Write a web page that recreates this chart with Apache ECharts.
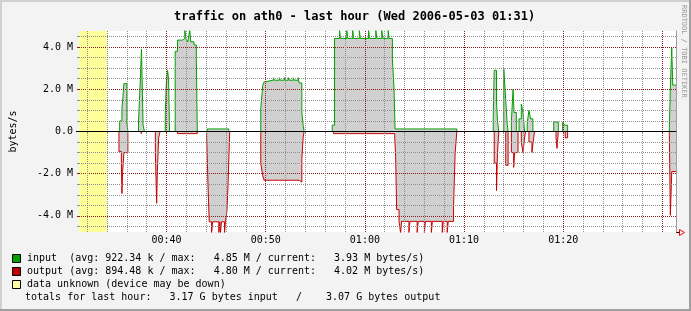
<!DOCTYPE html>
<html><head><meta charset="utf-8">
<script src="https://cdn.jsdelivr.net/npm/echarts@6/dist/echarts.min.js"></script>
<style>html,body{margin:0;padding:0;background:#f3f3f3}#c{width:691px;height:311px}</style>
</head><body><div id="c"></div><script>
// ---- text ----
const titleText = 'traffic on ath0 - last hour (Wed 2006-05-03 01:31)';
const sideText = 'RRDTOOL / TOBI OETIKER';
const yAxisName = 'bytes/s';
const legendLines = [
  'input  (avg: 922.34 k / max:   4.85 M / current:   3.93 M bytes/s)',
  'output (avg: 894.48 k / max:   4.80 M / current:   4.02 M bytes/s)',
  'data unknown (device may be down)'
];
const totalsLine = 'totals for last hour:   3.17 G bytes input   /    3.07 G bytes output';
// ---- axes (time in minutes after 00:00, values in M bytes/s) ----
const xRange = [31.17, 91.37];
const yRange = [-4.763, 4.763];
const xMinor = [32,34,36,38,42,44,46,48,52,54,56,58,62,64,66,68,72,74,76,78,82,84,86,88];
const xMajor = [40,50,60,70,80,90];
const xLabelValues = [40,50,60,70,80];
const xLabels = ['00:40','00:50','01:00','01:10','01:20'];
const yMinor = [-4.5,-3.5,-3,-2.5,-1.5,-1,-0.5,0.5,1,1.5,2.5,3,3.5,4.5];
const yMajor = [-4,-2,2,4];
const yLabelValues = [-4,-2,0,2,4];
const yLabels = ['-4.0 M','-2.0 M','0.0','2.0 M','4.0 M'];
const unknownRange = [31.17, 34.0];
// ---- data: step breakpoints (value holds until next time) ----
const inTime = [34.00,35.27,35.50,35.60,35.70,36.00,36.10,37.17,37.33,37.47,37.63,37.77,
  39.87,39.97,40.10,40.20,40.30,40.87,41.10,41.60,41.84,41.94,42.14,42.34,42.44,42.77,43.00,43.10,
  44.10,46.27,49.50,49.70,49.84,50.00,50.77,50.87,51.37,51.47,51.87,51.97,52.27,52.37,52.77,52.87,53.27,53.37,53.50,53.64,53.77,53.87,
  56.70,56.94,57.44,57.54,58.17,58.27,58.77,58.87,59.44,59.54,60.37,60.47,61.10,61.20,61.70,61.80,62.34,62.44,62.77,62.94,63.04,
  69.27,72.94,73.04,73.27,73.37,73.50,74.00,74.20,74.34,74.44,74.77,74.94,75.04,75.27,75.54,75.77,75.94,76.10,
  76.37,76.54,76.70,76.94,79.04,79.50,79.94,80.14,80.44,90.70,90.80,90.94,91.04,91.37];
const inValue = [0,0.5,1.1,1.65,2.27,0.4,0,0.5,2.2,3.9,0.3,0,
  0.8,2.2,2.9,2.5,0,3.8,4.33,4.4,4.8,4.4,4.25,4.8,4.25,4.1,3.5,0,
  0.12,0,1.1,2.2,2.35,2.43,2.55,2.43,2.55,2.43,2.55,2.43,2.55,2.43,2.55,2.43,2.55,2.3,2.3,0.9,0.3,0,
  0.3,4.41,4.8,4.41,4.8,4.41,4.8,4.41,4.8,4.41,4.8,4.41,4.8,4.41,4.8,4.41,4.8,4.41,3.46,2.0,0.12,
  0,0.6,2.9,1.4,0.5,0,3.0,1.5,0.4,0,0.5,2.0,0.9,0,0.6,1.3,0.9,0,
  0.4,1.0,0.6,0,0.45,0,0.45,0.3,0,0.2,2.1,3.96,2.2,2.2];
const outTime = [34.00,35.20,35.44,35.50,35.57,35.70,36.10,37.44,37.54,38.87,39.00,39.07,39.20,39.34,
  41.10,43.10,44.04,44.17,44.30,44.54,44.64,45.27,45.37,45.44,45.54,45.84,45.94,46.10,46.20,46.30,46.37,
  49.50,49.70,49.84,50.77,50.87,51.37,51.47,51.87,51.97,52.37,52.47,52.87,52.97,53.37,53.50,53.64,53.77,53.87,
  56.84,63.00,63.10,63.20,63.44,63.60,63.70,64.44,64.54,65.27,65.37,66.00,66.10,66.70,66.80,67.80,67.90,68.30,68.40,68.94,69.10,69.27,
  73.04,73.27,73.37,73.50,74.20,74.44,74.77,75.00,75.10,75.44,75.77,75.94,76.10,76.20,76.54,76.84,76.97,77.10,
  79.27,79.37,79.50,80.20,80.44,90.70,90.80,90.94,91.04,91.37];
const outValue = [0,-0.95,-1.4,-2.94,-1.9,-1.0,0,-0.1,0,-1.0,-3.4,-1.9,-0.3,0,
  -0.1,0,-0.2,-2.4,-4.28,-4.8,-4.28,-4.8,-4.28,-4.8,-4.28,-4.8,-4.28,-3.7,-2.5,-1.0,0,
  -1.5,-2.1,-2.31,-2.4,-2.31,-2.4,-2.31,-2.4,-2.31,-2.4,-2.31,-2.4,-2.31,-2.4,-2.4,-1.3,-0.3,0,
  -0.1,-0.2,-1.2,-3.7,-4.26,-4.8,-4.26,-4.8,-4.26,-4.8,-4.26,-4.8,-4.26,-4.8,-4.26,-4.8,-4.26,-4.8,-4.26,-3.5,-1.0,0,
  -1.5,-2.8,-1.0,0,-1.6,0,-1.0,-1.7,-1.0,0,-0.5,-1.0,-0.3,0,-0.5,-1.0,-0.5,0,
  -0.3,-0.8,0,-0.3,0,-0.2,-3.97,-1.9,-1.9,-1.9];

const inData = inTime.map((t, i) => [t, inValue[i]]);
const outData = outTime.map((t, i) => [t, outValue[i]]);

const MONO = '"DejaVu Sans Mono", monospace';
const GRID_C = '#8f8f8f', MGRID_C = '#8b1a1a';

function xAx(extra) {
  return Object.assign({type:'value', min:xRange[0], max:xRange[1], z:3,
    axisLine:{show:false}, axisTick:{show:false}, axisLabel:{show:false}, splitLine:{show:false}}, extra);
}
function yAx(extra) {
  return Object.assign({type:'value', min:yRange[0], max:yRange[1], z:3,
    axisLine:{show:false}, axisTick:{show:false}, axisLabel:{show:false}, splitLine:{show:false}}, extra);
}

const chart = echarts.init(document.getElementById('c'), null, {renderer:'canvas'});
chart.setOption({
  animation:false,
  backgroundColor:'#f3f3f3',
  title:{text:titleText, left:169, top:6,
    textStyle:{fontFamily:MONO, fontSize:12, fontWeight:'bold', color:'#000'}},
  grid:{left:74, top:31, width:602, height:201, show:true, backgroundColor:'#ffffff', borderWidth:0},
  xAxis:[
    xAx({position:'bottom', axisLine:{show:true, lineStyle:{color:'#000', width:1}},
      axisTick:{show:true, customValues:xMinor, length:2, lineStyle:{color:GRID_C}},
      splitLine:{show:true, lineStyle:{color:GRID_C, type:[1,1], width:1}}}),
    xAx({position:'bottom',
      axisTick:{show:true, customValues:xMajor, length:2, lineStyle:{color:MGRID_C}},
      splitLine:{show:true, lineStyle:{color:MGRID_C, type:[1,1], width:1}},
      axisLabel:{show:true, customValues:xLabelValues, margin:3, fontFamily:MONO, fontSize:10, color:'#000',
        formatter:v => xLabels[xLabelValues.indexOf(v)]}}),
    xAx({position:'top', z:1, axisLine:{show:true, lineStyle:{color:'#a0a0a0', width:1}}})
  ],
  yAxis:[
    yAx({position:'left',
      axisTick:{show:true, customValues:yMinor, length:2, lineStyle:{color:GRID_C}},
      splitLine:{show:true, lineStyle:{color:GRID_C, type:[1,1], width:1}}}),
    yAx({position:'left', name:yAxisName, nameLocation:'middle', nameGap:61, nameRotate:90,
      nameTextStyle:{fontFamily:MONO, fontSize:10, color:'#000'},
      axisTick:{show:true, customValues:yMajor, length:2, lineStyle:{color:MGRID_C}},
      splitLine:{show:true, lineStyle:{color:MGRID_C, type:[1,1], width:1}},
      axisLabel:{show:true, customValues:yLabelValues, margin:6, fontFamily:MONO, fontSize:10, color:'#000',
        formatter:v => yLabels[yLabelValues.indexOf(v)]}}),
    yAx({position:'left', z:4,
      axisTick:{show:true, customValues:[0], length:3, lineStyle:{color:'#000'}},
      splitLine:{show:true, lineStyle:{color:'#000', type:'solid', width:1}}}),
    yAx({position:'right', z:1, axisLine:{show:true, lineStyle:{color:'#a0a0a0', width:1}}})
  ],
  series:[
    {name:'input', type:'line', step:'end', data:inData, showSymbol:false, symbol:'none',
      xAxisIndex:0, yAxisIndex:0, z:2,
      lineStyle:{color:'#00a000', width:1}, areaStyle:{color:'#d0d0d0', opacity:1},
      markArea:{silent:true, itemStyle:{color:'#ffff9a'}, data:[[{xAxis:unknownRange[0]},{xAxis:unknownRange[1]}]]}},
    {name:'output', type:'line', step:'end', data:outData, showSymbol:false, symbol:'none',
      xAxisIndex:0, yAxisIndex:0, z:2,
      lineStyle:{color:'#cc0000', width:1}, areaStyle:{color:'#d0d0d0', opacity:1}}
  ],
  graphic:[
    {type:'text', x:684, y:5, rotation:-Math.PI/2, silent:true,
      style:{text:sideText, font:'7px ' + MONO, fill:'#999', textAlign:'left', textVerticalAlign:'middle'}},
    {type:'line', shape:{x1:676, y1:232.5, x2:679, y2:232.5}, style:{stroke:'#000', lineWidth:1}},
    {type:'polygon', shape:{points:[[679.5,229.5],[684.5,232.5],[679.5,235.5]]}, style:{stroke:'#ff0000', fill:'none', lineWidth:1}},
    {type:'rect', shape:{x:12.5, y:254.5, width:8, height:8}, style:{fill:'#00a000', stroke:'#000', lineWidth:1}},
    {type:'rect', shape:{x:12.5, y:267.5, width:8, height:8}, style:{fill:'#c00000', stroke:'#000', lineWidth:1}},
    {type:'rect', shape:{x:12.5, y:280.5, width:8, height:8}, style:{fill:'#ffffa0', stroke:'#000', lineWidth:1}},
    {type:'text', x:27, y:258.5, style:{text:legendLines[0], font:'10px ' + MONO, fill:'#000', textVerticalAlign:'middle'}},
    {type:'text', x:27, y:271.5, style:{text:legendLines[1], font:'10px ' + MONO, fill:'#000', textVerticalAlign:'middle'}},
    {type:'text', x:27, y:284.5, style:{text:legendLines[2], font:'10px ' + MONO, fill:'#000', textVerticalAlign:'middle'}},
    {type:'text', x:25, y:297.5, style:{text:totalsLine, font:'10px ' + MONO, fill:'#000', textVerticalAlign:'middle'}},
    {type:'rect', shape:{x:0, y:0, width:691, height:2}, style:{fill:'#d0d0d0'}},
    {type:'rect', shape:{x:0, y:0, width:2, height:311}, style:{fill:'#d0d0d0'}},
    {type:'rect', shape:{x:689, y:0, width:2, height:311}, style:{fill:'#a0a0a0'}},
    {type:'rect', shape:{x:0, y:309, width:691, height:2}, style:{fill:'#a0a0a0'}}
  ]
});
</script></body></html>
